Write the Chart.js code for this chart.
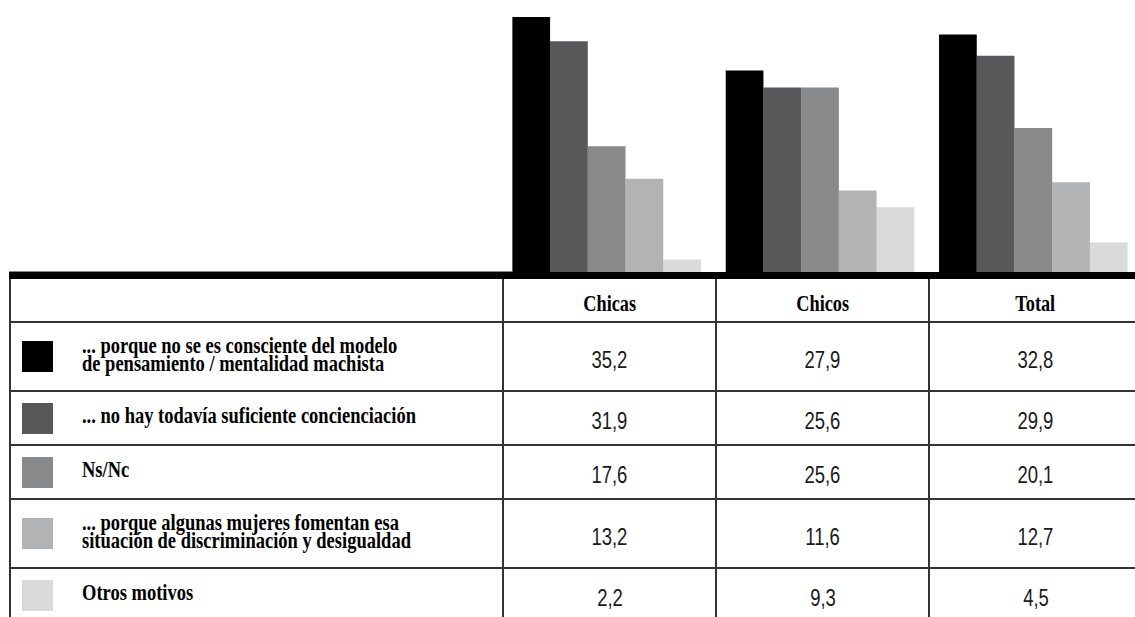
<!DOCTYPE html>
<html>
<head>
<meta charset="utf-8">
<script src="https://cdn.jsdelivr.net/npm/chart.js@4.4.1/dist/chart.umd.min.js"></script>
<style>
html, body { margin: 0; padding: 0; background: #fff; overflow: hidden; }
#wrap { position: relative; width: 1135px; height: 617px; overflow: hidden; }
#bars { position: absolute; left: 500px; top: 0; }
.rule { position: absolute; left: 9px; top: 272px; width: 1140px; height: 7px; background: #000; }
.hair { position: absolute; left: 9px; top: 271px; width: 503px; height: 1px; background: #888; }
.cell { position: absolute; box-sizing: border-box; border-left: 2px solid #333; border-bottom: 2px solid #333; display: flex; align-items: center; }
.cell.c { justify-content: center; }
.lbl, .head { font-weight: bold; font-size: 24px; line-height: 18px; color: #000; white-space: nowrap; display: inline-block; }
.lbl { transform-origin: left center; position: relative; top: -3px; }
.head { position: relative; top: 3px; }
.num { font-size: 23px; color: #1a1a1a; display: inline-block; padding-top: 7px; }
.sw { position: absolute; width: 31px; height: 31px; }
</style>
</head>
<body>
<div id="wrap">
  <canvas id="bars" width="640" height="272"></canvas>
  <div class="hair"></div>
  <div class="rule"></div>
  <div id="table"></div>
</div>
<script>
// categories (columns)
const groups = ['Chicas', 'Chicos', 'Total'];

// reasons (rows), split into the printed lines
const reasons = [
	['... porque no se es consciente del modelo', 'de pensamiento / mentalidad machista'],
	['... no hay todavía suficiente concienciación'],
	['Ns/Nc'],
	['... porque algunas mujeres fomentan esa', 'situación de discriminación y desigualdad'],
	['Otros motivos'],
];

// values per reason: Chicas, Chicos, Total
const consciente = [35.2, 27.9, 32.8];
const concienciacion = [31.9, 25.6, 29.9];
const nsnc = [17.6, 25.6, 20.1];
const fomentan = [13.2, 11.6, 12.7];
const otros = [2.2, 9.3, 4.5];

const series = [consciente, concienciacion, nsnc, fomentan, otros];
const colors = ['#000000', '#58585a', '#88898b', '#b2b3b5', '#d9dadc'];

// pick the first installed face from a list
function pickFont(list, weight) {
	const ctx = document.createElement('canvas').getContext('2d');
	const probe = 'Chicas concienciación 35,2 WMwi';
	ctx.font = `${weight} 30px monospace`;
	const base = ctx.measureText(probe).width;
	for (const f of list) {
		ctx.font = `${weight} 30px "${f}", monospace`;
		if (Math.abs(ctx.measureText(probe).width - base) > 0.5) return `"${f}"`;
	}
	return weight === 'bold' ? 'serif' : 'sans-serif';
}
const serifFont = pickFont(['Liberation Serif', 'Times New Roman', 'Tinos', 'DejaVu Serif', 'Noto Serif'], 'bold');
const sansFont = pickFont(['Liberation Sans', 'Arial', 'Roboto', 'DejaVu Sans'], 'normal');

new Chart(document.querySelector('#bars'), {
	type: 'bar',
	data: {
		labels: groups,
		datasets: series.map((vals, i) => ({
			label: reasons[i].join(' '),
			data: vals,
			backgroundColor: colors[i],
			borderWidth: 0,
			categoryPercentage: 0.884,
			barPercentage: 1.0,
		})),
	},
	options: {
		responsive: false,
		animation: false,
		layout: { padding: 0 },
		plugins: { legend: { display: false }, tooltip: { enabled: false } },
		scales: {
			x: { display: false },
			y: { display: false, min: 0.5, max: 37.5 },
		},
	},
});

// table below the bars
const $table = document.querySelector('#table');
const colX = [9, 502, 715, 928, 1141];
const fmt = (v) => v.toFixed(1).replace('.', ',');

function cell(x, y, w, h, cls, html) {
	const d = document.createElement('div');
	d.className = 'cell ' + cls;
	d.style.left = x + 'px';
	d.style.top = y + 'px';
	d.style.width = w + 'px';
	d.style.height = h + 'px';
	d.innerHTML = html;
	$table.appendChild(d);
	return d;
}

let y = 279;
cell(colX[0], y, colX[1] - colX[0], 44, '', '');
groups.forEach((g, j) => {
	cell(colX[j + 1], y, colX[j + 2] - colX[j + 1], 44, 'c', `<span class="head">${g}</span>`);
});
y += 44;

reasons.forEach((lines, i) => {
	const h = lines.length > 1 ? 69 : 54;
	const c = cell(colX[0], y, colX[1] - colX[0], h, '', `<span class="lbl" style="margin-left:71px">${lines.join('<br>')}</span>`);
	const sw = document.createElement('div');
	sw.className = 'sw';
	sw.style.background = colors[i];
	sw.style.left = '11px';
	sw.style.top = Math.round((h - 2 - 31) / 2) + 'px';
	c.appendChild(sw);
	series[i].forEach((v, j) => {
		cell(colX[j + 1], y, colX[j + 2] - colX[j + 1], h, 'c', `<span class="num">${fmt(v)}</span>`);
	});
	y += h;
});

document.querySelectorAll('.lbl, .head').forEach(($e) => { $e.style.fontFamily = serifFont; });
document.querySelectorAll('.num').forEach(($e) => { $e.style.fontFamily = sansFont; });

// the print uses condensed faces: squeeze to the printed widths
const lbls = [...document.querySelectorAll('.lbl')];
const kLbl = 334 / lbls[1].getBoundingClientRect().width;
lbls.forEach(($e) => { $e.style.transform = `scaleX(${kLbl})`; });
const heads = [...document.querySelectorAll('.head')];
const kHead = 52.7 / heads[0].getBoundingClientRect().width;
heads.forEach(($e) => { $e.style.transform = `scaleX(${kHead})`; });
const nums = [...document.querySelectorAll('.num')];
const kNum = 36 / nums[0].getBoundingClientRect().width;
nums.forEach(($e) => { $e.style.transform = `scaleX(${kNum})`; });
</script>
</body>
</html>
